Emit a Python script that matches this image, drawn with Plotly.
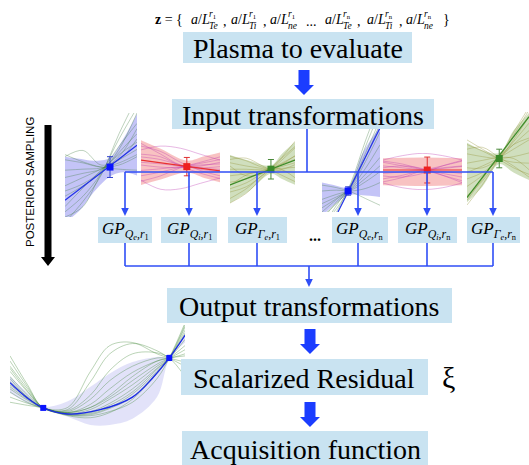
import plotly.graph_objects as go

W, H = 529, 465
SERIF = "Liberation Serif, Times New Roman, Times, serif"
SANS = "Liberation Sans, Arial, Helvetica, sans-serif"
BOX_FILL = "#C9E3F1"
ARROW_BLUE = "#1B3DFF"
LINK_BLUE = "#2F4EF6"

# ---------------- posterior panels (local units 0..10 on both axes) ----------------
SAMPLE_X = [0, 2.5, 5, 7.5, 10]

# Q_e at r_1
QE1_BAND_X = [0, 2, 4, 6.25, 8, 10]
QE1_BAND_LO = [-0.5, 0.6, 2.4, 3.9, 4.3, 4.0]
QE1_BAND_HI = [5.8, 5.6, 5.4, 5.7, 7.4, 9.9]
QE1_MEAN = [1.6, 6.9]
QE1_POINT = [6.25, 4.8, 1.0]
QE1_SAMPLES = [
    [2.0, 3.0, 4.3, 6.5, 10.0],
    [4.5, 4.6, 4.7, 5.2, 6.0],
    [0.5, 2.0, 4.2, 7.5, 10.5],
    [3.0, 3.8, 4.6, 5.5, 6.5],
    [5.5, 5.2, 4.8, 5.0, 5.8],
    [1.0, 2.8, 4.5, 6.0, 7.2],
    [-0.5, 1.5, 4.0, 8.0, 11.5],
    [3.8, 4.2, 4.6, 5.8, 8.5],
    [6.0, 5.3, 4.8, 4.6, 4.5],
    [2.5, 3.2, 4.4, 6.8, 9.0],
    [0.0, 1.0, 4.1, 6.2, 8.0],
    [5.8, 6.4, 5.0, 5.5, 7.5],
]

# Q_i at r_1
QI1_BAND_X = [0, 2.5, 5.8, 8, 10]
QI1_BAND_LO = [1.3, 2.3, 3.6, 2.6, 1.8]
QI1_BAND_HI = [9.6, 8.0, 5.8, 6.6, 7.3]
QI1_MEAN = [5.9, 3.9]
QI1_POINT = [5.8, 4.7, 1.7]
QI1_SAMPLES = [
    [8.5, 7.5, 5.5, 4.0, 3.0],
    [2.0, 3.0, 4.5, 5.5, 6.5],
    [6.5, 6.0, 5.0, 4.2, 3.8],
    [4.0, 4.3, 4.7, 5.0, 5.2],
    [7.0, 6.5, 4.8, 3.5, 2.5],
    [3.0, 3.7, 4.6, 5.3, 6.0],
    [5.5, 5.2, 4.8, 4.4, 4.2],
    [2.2, 0.5, 0.6, 1.6, 2.6],
    [7.8, 8.5, 8.1, 7.0, 5.9],
    [9.0, 7.0, 5.0, 4.5, 4.7],
    [5.0, 4.6, 4.5, 4.8, 5.5],
]

# Gamma_e at r_1
GE1_BAND_X = [0, 3, 6.3, 8, 10]
GE1_BAND_LO = [0.3, 2.2, 4.8, 4.0, 3.1]
GE1_BAND_HI = [7.7, 6.8, 6.1, 7.9, 9.7]
GE1_MEAN = [3.1, 6.9]
GE1_POINT = [6.3, 5.5, 1.5]
GE1_SAMPLES = [
    [1.0, 2.5, 4.6, 6.5, 8.8],
    [4.5, 4.8, 5.2, 5.8, 6.5],
    [6.5, 6.0, 5.6, 5.3, 5.0],
    [2.5, 3.4, 4.9, 6.2, 7.5],
    [7.5, 6.8, 5.8, 5.4, 6.2],
    [0.3, 1.8, 4.3, 6.8, 9.8],
    [3.5, 4.0, 5.0, 6.0, 7.6],
    [5.5, 5.5, 5.4, 5.6, 5.8],
    [2.0, 2.8, 4.6, 6.8, 9.0],
    [6.0, 4.5, 4.9, 6.1, 7.0],
    [3.0, 4.6, 5.3, 5.6, 4.2],
    [7.0, 7.2, 6.0, 4.8, 3.6],
]

# Q_e at r_n
QEN_BAND_X = [0, 2, 4.5, 7, 10]
QEN_BAND_LO = [-0.5, 0.8, 2.0, 2.0, 1.8]
QEN_BAND_HI = [3.5, 3.2, 3.0, 7.0, 10.2]
QEN_MEAN = [-3.8, 10.0]
QEN_POINT = [4.5, 2.5, 0.5]
QEN_SAMPLES = [
    [-2.0, 0.8, 3.2, 7.0, 11.0],
    [-1.0, 1.2, 3.0, 6.0, 9.5],
    [0.5, 1.6, 2.8, 4.5, 6.5],
    [-3.0, 0.0, 3.5, 8.5, 13.0],
    [1.5, 2.1, 2.6, 3.6, 4.8],
    [2.5, 2.6, 2.5, 2.8, 3.5],
    [-1.5, 0.4, 3.3, 7.8, 12.0],
    [0.0, 1.5, 2.9, 5.2, 8.0],
    [3.2, 2.9, 2.4, 1.6, 0.8],
    [-0.5, 1.0, 3.1, 6.5, 10.5],
    [1.0, 1.8, 2.7, 4.0, 5.5],
]

# Q_i at r_n
QIN_BAND_X = [0, 5, 10]
QIN_BAND_LO = [1.3, 1.1, 1.3]
QIN_BAND_HI = [8.6, 8.8, 8.6]
QIN_MEAN = [5.4, 5.4]
QIN_POINT = [5.6, 5.4, 3.5]
QIN_SAMPLES = [
    [8.1, 9.3, 9.9, 9.3, 8.1],
    [1.9, 0.6, 0.1, 0.6, 1.9],
    [7.5, 6.5, 5.5, 4.0, 2.5],
    [3.0, 4.0, 5.3, 6.5, 7.8],
    [6.5, 6.0, 5.4, 5.0, 4.5],
    [4.5, 4.9, 5.4, 5.8, 6.4],
    [7.8, 7.0, 5.6, 4.5, 3.5],
    [2.2, 3.4, 5.2, 6.0, 6.5],
    [6.0, 6.5, 5.8, 4.0, 2.0],
    [3.8, 3.5, 4.5, 6.5, 8.0],
]

# Gamma_e at r_n
GEN_BAND_X = [0, 2.5, 5.2, 7.5, 10]
GEN_BAND_LO = [0.3, 2.0, 4.4, 3.5, 2.7]
GEN_BAND_HI = [6.7, 5.9, 5.6, 8.0, 9.9]
GEN_MEAN = [0.8, 9.5]
GEN_POINT = [5.2, 5.0, 1.0]
GEN_SAMPLES = [
    [0.0, 2.2, 4.8, 7.5, 10.2],
    [2.0, 3.2, 4.9, 6.8, 8.8],
    [3.5, 4.2, 5.0, 6.0, 7.0],
    [5.5, 5.2, 5.0, 5.2, 5.6],
    [6.5, 5.8, 5.0, 4.6, 4.5],
    [1.0, 2.6, 4.9, 7.8, 10.5],
    [4.5, 4.8, 5.1, 5.0, 3.8],
    [6.0, 6.2, 5.2, 4.2, 3.0],
    [2.8, 3.5, 4.8, 7.0, 9.5],
    [0.5, 2.8, 5.0, 6.5, 7.2],
    [4.0, 4.0, 4.9, 6.5, 8.0],
    [7.0, 6.0, 5.0, 4.0, 3.3],
]

# Scalarized-residual surrogate (bottom left)
RES_X = [0, 1, 1.9, 3.3, 4.6, 5.7, 7.0, 8.4, 9.1, 10]
RES_BAND_LO = [3.4, 2.4, 1.8, 1.1, 0.3, 0.3, 0.9, 3.0, 6.65, 8.3]
RES_BAND_HI = [5.0, 3.4, 2.1, 2.6, 4.0, 5.3, 6.4, 6.9, 6.95, 9.3]
RES_MEAN_X = [0, 1, 1.9, 3.3, 5.1, 7.0, 8.2, 9.1, 10]
RES_MEAN_Y = [4.4, 2.9, 1.95, 1.36, 1.75, 3.0, 4.95, 6.8, 9.0]
RES_POINTS_X = [1.9, 9.1]
RES_POINTS_Y = [1.95, 6.8]
RES_SAMPLES = [
    [5.5, 3.5, 1.95, 1.5, 2.0, 3.0, 4.6, 6.2, 6.8, 8.0],
    [3.5, 2.5, 1.95, 1.4, 1.6, 2.4, 3.8, 5.8, 6.8, 9.5],
    [6.0, 3.8, 1.95, 1.6, 2.8, 4.6, 6.0, 6.8, 6.8, 7.2],
    [4.0, 2.8, 1.95, 1.2, 1.0, 1.5, 2.8, 5.3, 6.8, 10.0],
    [7.0, 4.2, 1.95, 1.8, 4.5, 7.2, 8.2, 7.5, 6.8, 6.0],
    [3.0, 2.4, 1.95, 1.3, 1.4, 2.0, 3.3, 5.5, 6.8, 9.8],
    [5.0, 3.2, 1.95, 1.5, 2.3, 3.8, 5.4, 6.5, 6.8, 7.6],
    [4.8, 3.0, 1.95, 2.0, 5.5, 8.0, 8.3, 7.2, 6.8, 6.4],
    [2.5, 2.2, 1.95, 1.25, 1.2, 1.6, 2.5, 4.8, 6.8, 10.2],
    [6.5, 4.0, 1.95, 1.4, 1.8, 2.8, 4.2, 6.0, 6.8, 8.6],
    [4.2, 2.9, 1.95, 1.35, 1.5, 2.2, 3.5, 5.7, 6.8, 9.2],
    [3.8, 2.7, 1.95, 1.5, 2.0, 3.2, 5.0, 6.5, 6.8, 7.0],
    [5.8, 3.6, 1.95, 1.3, 1.3, 1.9, 3.0, 5.4, 6.8, 9.0],
    [4.5, 3.0, 1.95, 1.7, 3.2, 5.6, 7.2, 7.3, 6.8, 5.0],
]

# ---------------- text ----------------
BOX_LABELS = ["Plasma to evaluate", "Input transformations", "Output transformations",
              "Scalarized Residual", "Acquisition function"]
GP_FLUX = ["Q<sub>e</sub>", "Q<sub>i</sub>", "Γ<sub>e</sub>", "Q<sub>e</sub>", "Q<sub>i</sub>", "Γ<sub>e</sub>"]
GP_RADIUS = ["1", "1", "1", "n", "n", "n"]
Z_SUBS = ["Te", "Ti", "ne", "Te", "Ti", "ne"]
Z_SUPS = ["1", "1", "1", "n", "n", "n"]

# ---------------- layout geometry (pixels, origin top-left) ----------------
BOXES = [(183, 32, 412, 63), (172, 99, 434, 129), (167, 288, 452, 323),
         (181, 359, 428, 395), (182, 431, 428, 466)]
GP_BOXES = [(98, 217, 152, 243), (161, 217, 217, 243), (228, 217, 287, 243),
            (332, 217, 388, 243), (398, 217, 457, 243), (467, 217, 520, 243)]
BRANCH_X = [125, 189, 257, 358, 427, 493]
PANEL_BOXES = [(65, 113, 137, 217), (141, 138, 220, 192), (230, 140, 295, 205),
               (322, 128, 380, 212), (383, 153, 462, 190), (467, 112, 529, 205)]
RES_BOX = (10, 325, 185, 428)
Z_TERM_LEFT = [189, 229, 268, 323, 365, 404]

STYLES = {
    "blue": dict(band="rgba(115,115,235,0.42)", sample="rgba(70,125,70,0.5)",
                 mean="#2030E8", point="#0A14FF", err="#3040D0"),
    "red": dict(band="rgba(238,110,110,0.42)", sample="rgba(185,50,175,0.5)",
                mean="#E83030", point="#EE2020", err="#E03030"),
    "green": dict(band="rgba(150,185,110,0.45)", sample="rgba(150,150,60,0.55)",
                  mean="#3C8C28", point="#3A8A2A", err="#4A8A3A"),
}

PANELS = [
    (QE1_BAND_X, QE1_BAND_LO, QE1_BAND_HI, QE1_MEAN, QE1_POINT, QE1_SAMPLES, "blue"),
    (QI1_BAND_X, QI1_BAND_LO, QI1_BAND_HI, QI1_MEAN, QI1_POINT, QI1_SAMPLES, "red"),
    (GE1_BAND_X, GE1_BAND_LO, GE1_BAND_HI, GE1_MEAN, GE1_POINT, GE1_SAMPLES, "green"),
    (QEN_BAND_X, QEN_BAND_LO, QEN_BAND_HI, QEN_MEAN, QEN_POINT, QEN_SAMPLES, "blue"),
    (QIN_BAND_X, QIN_BAND_LO, QIN_BAND_HI, QIN_MEAN, QIN_POINT, QIN_SAMPLES, "red"),
    (GEN_BAND_X, GEN_BAND_LO, GEN_BAND_HI, GEN_MEAN, GEN_POINT, GEN_SAMPLES, "green"),
]


def px(x):
    return x / W


def py(y):
    return 1 - y / H


fig = go.Figure()
axes_layout = {}


def axis_names(i):
    if i == 1:
        return "x", "y", "xaxis", "yaxis"
    return f"x{i}", f"y{i}", f"xaxis{i}", f"yaxis{i}"


def set_axes(i, box):
    xr, yr, xa, ya = axis_names(i)
    x0, y0, x1, y1 = box
    axes_layout[xa] = dict(domain=[px(x0), min(px(x1), 1.0)], range=[0, 10], visible=False,
                           anchor=yr, fixedrange=True)
    axes_layout[ya] = dict(domain=[py(y1), py(y0)], range=[0, 10], visible=False,
                           anchor=xr, fixedrange=True)
    return xr, yr


def line_trace(x, y, color, width, xr, yr, **kw):
    return go.Scatter(x=x, y=y, mode="lines", xaxis=xr, yaxis=yr, hoverinfo="skip",
                      showlegend=False, line=dict(color=color, width=width, shape="spline",
                                                  smoothing=1.0), **kw)


for i, (bx, lo, hi, mean, pt, samples, key) in enumerate(PANELS, start=1):
    st = STYLES[key]
    xr, yr = set_axes(i, PANEL_BOXES[i - 1])
    fig.add_trace(line_trace(bx, lo, "rgba(0,0,0,0)", 0, xr, yr))
    fig.add_trace(line_trace(bx, hi, "rgba(0,0,0,0)", 0, xr, yr, fill="tonexty",
                             fillcolor=st["band"]))
    for s in samples:
        fig.add_trace(line_trace(SAMPLE_X, s, st["sample"], 0.7, xr, yr))
    fig.add_trace(go.Scatter(x=[0, 10], y=mean, mode="lines", xaxis=xr, yaxis=yr,
                             hoverinfo="skip", showlegend=False,
                             line=dict(color=st["mean"], width=1.2)))
    fig.add_trace(go.Scatter(x=[pt[0]], y=[pt[1]], mode="markers", xaxis=xr, yaxis=yr,
                             hoverinfo="skip", showlegend=False,
                             marker=dict(symbol="square", size=7, color=st["point"]),
                             error_y=dict(type="data", array=[pt[2]], color=st["err"],
                                          thickness=1, width=3)))

# residual surrogate panel
xr, yr = set_axes(7, RES_BOX)
fig.add_trace(line_trace(RES_X, RES_BAND_LO, "rgba(0,0,0,0)", 0, xr, yr))
fig.add_trace(line_trace(RES_X, RES_BAND_HI, "rgba(0,0,0,0)", 0, xr, yr, fill="tonexty",
                         fillcolor="rgba(150,150,235,0.28)"))
for s in RES_SAMPLES:
    fig.add_trace(line_trace(RES_X, s, "rgba(50,125,40,0.42)", 0.8, xr, yr))
fig.add_trace(line_trace(RES_MEAN_X, RES_MEAN_Y, "#1A2AE8", 1.3, xr, yr))
fig.add_trace(go.Scatter(x=RES_POINTS_X, y=RES_POINTS_Y, mode="markers", xaxis=xr, yaxis=yr,
                         hoverinfo="skip", showlegend=False,
                         marker=dict(symbol="square", size=6, color="#0A14FF"),
                         error_y=dict(type="data", array=[0, 0.3], color="#0A14FF",
                                      thickness=4, width=0)))

# ---------------- shapes ----------------
shapes = []


def rect(box, color):
    x0, y0, x1, y1 = box
    shapes.append(dict(type="rect", xref="paper", yref="paper", x0=px(x0), x1=px(x1),
                       y0=py(y1), y1=py(y0), fillcolor=color, line=dict(width=0),
                       layer="above"))


def poly(points, color):
    d = "M " + " L ".join(f"{px(a):.5f},{py(b):.5f}" for a, b in points) + " Z"
    shapes.append(dict(type="path", xref="paper", yref="paper", path=d, fillcolor=color,
                       line=dict(width=0), layer="above"))


def seg(x0, y0, x1, y1, color=LINK_BLUE, width=1.6):
    shapes.append(dict(type="line", xref="paper", yref="paper", x0=px(x0), y0=py(y0),
                       x1=px(x1), y1=py(y1), line=dict(color=color, width=width),
                       layer="above"))


def block_arrow(cx, y0, y1, sw, hw, hh, color):
    poly([(cx - sw / 2, y0), (cx + sw / 2, y0), (cx + sw / 2, y1 - hh), (cx + hw / 2, y1 - hh),
          (cx, y1), (cx - hw / 2, y1 - hh), (cx - sw / 2, y1 - hh)], color)


def thin_arrow(x, y0, y1):
    seg(x, y0, x, y1 - 6)
    poly([(x - 3.8, y1 - 8), (x + 3.8, y1 - 8), (x, y1)], LINK_BLUE)


for b in BOXES:
    rect(b, BOX_FILL)
for b in GP_BOXES:
    rect(b, BOX_FILL)

block_arrow(304, 70, 95, 11, 20, 10, ARROW_BLUE)
block_arrow(310, 329, 354, 11, 20, 10, ARROW_BLUE)
block_arrow(310, 402, 427, 11, 20, 10, ARROW_BLUE)
block_arrow(48, 125, 266, 7, 14, 9, "black")

# fan-out from the input transformations
seg(307, 129, 307, 172)
seg(BRANCH_X[0], 172, BRANCH_X[-1], 172)
for x in BRANCH_X:
    thin_arrow(x, 172, 216)
    seg(x, 243, x, 266)
seg(BRANCH_X[0], 266, BRANCH_X[-1], 266)
thin_arrow(309, 266, 287)

# ---------------- annotations ----------------
annots = []


def text(x, y, s, size, family=SERIF, xanchor="center", angle=0, color="black", align="center"):
    annots.append(dict(x=px(x), y=py(y), xref="paper", yref="paper", text=s, showarrow=False,
                       xanchor=xanchor, yanchor="middle", textangle=angle, align=align,
                       font=dict(family=family, size=size, color=color)))


for (x0, y0, x1, y1), s in zip(BOXES, BOX_LABELS):
    text((x0 + x1) / 2, (y0 + min(y1, 465)) / 2 + 1, s, 28)

for (x0, y0, x1, y1), fl, r in zip(GP_BOXES, GP_FLUX, GP_RADIUS):
    label = f"<i>GP</i><sub><i>{fl}</i>,<i>r</i><sub>{r}</sub></sub>"
    text((x0 + x1) / 2, (y0 + y1) / 2, label, 17)

text(315, 235, "<b>...</b>", 16)
text(448, 377, "ξ", 30)
text(30, 182, "POSTERIOR SAMPLING", 11.5, family=SANS, angle=-90)

# z = {a/L_Te^r1, ...}: stacked radius superscript over species subscript
text(153, 20, "<b>z</b>\u00a0=\u00a0{", 14, xanchor="left")
for i, (xl, sb, sp) in enumerate(zip(Z_TERM_LEFT, Z_SUBS, Z_SUPS)):
    text(xl, 20, "<i>a</i>/<i>L</i>", 14, xanchor="left")
    text(xl + 18, 20, f"<i>r</i><sub>{sp}</sub><br><i>{sb}</i>", 9.5,
         xanchor="left", align="left")
    if i in (0, 1, 3, 4):
        text(xl + 32, 21, ",", 14, xanchor="left")
text(304, 21, "...", 14, xanchor="left")
text(441, 20, "}", 14, xanchor="left")

fig.update_layout(width=W, height=H, margin=dict(l=0, r=0, t=0, b=0),
                  paper_bgcolor="white", plot_bgcolor="rgba(0,0,0,0)", showlegend=False,
                  font=dict(family=SERIF),
                  shapes=shapes, annotations=annots, **axes_layout)

fig.write_html("out.html", config={"displayModeBar": False})
